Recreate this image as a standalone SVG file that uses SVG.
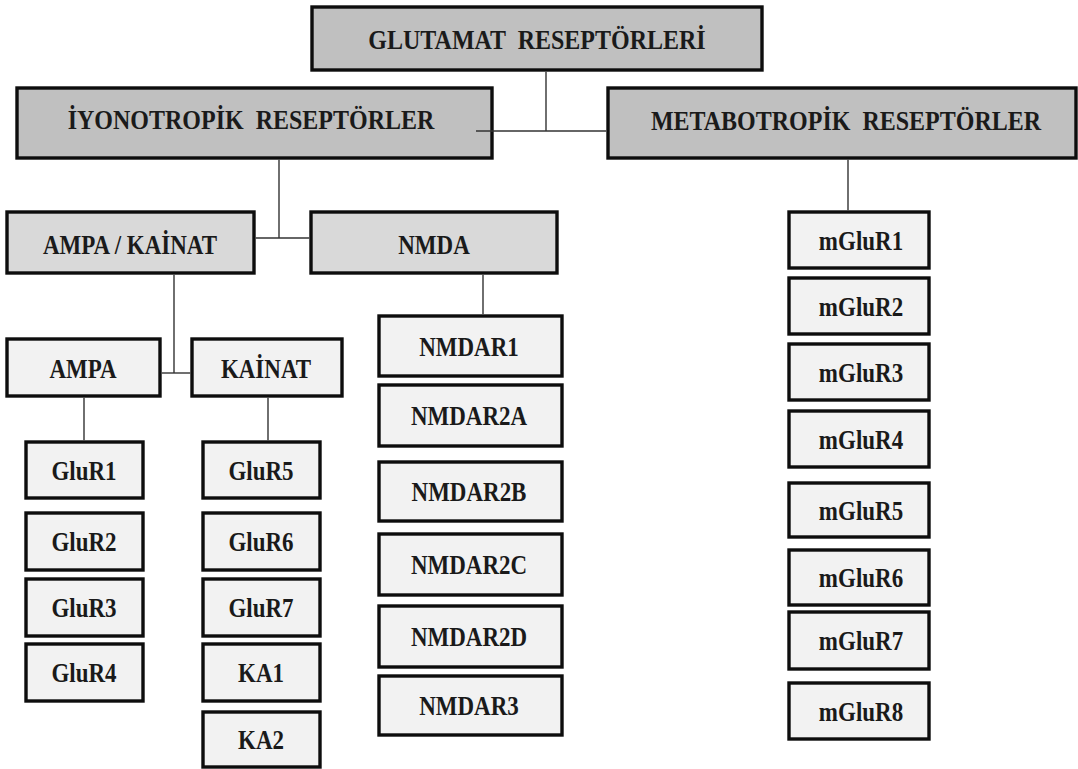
<svg xmlns="http://www.w3.org/2000/svg" width="1078" height="769" viewBox="0 0 1078 769">
  <style>
    .box { stroke: #0d0d0d; stroke-width: 3.4; }
    .lvl1 { fill: #c0c0c0; }
    .lvl2 { fill: #d9d9d9; }
    .leaf { fill: #f2f2f2; }
    text { font-family: "Liberation Serif", "Times New Roman", serif; font-weight: bold; fill: #1a1a1a; text-anchor: middle; dominant-baseline: central; }
    .big { font-size: 24px; word-spacing: 6px; }
    .lbl { font-size: 23px; }
    .conn line { stroke: #333; stroke-width: 1.4; }
  </style>
  <rect width="1078" height="769" fill="#fff"/>

  <!-- top level -->
  <g id="glutamat">
    <rect class="box lvl1" x="312" y="7" width="450" height="63"/>
    <text class="big" transform="translate(537 40) scale(1 1.15)">GLUTAMAT RESEPTÖRLERİ</text>
  </g>
  <g id="iyonotropik">
    <rect class="box lvl1" x="17" y="88" width="475" height="70"/>
    <text class="big" transform="translate(251 120) scale(1 1.15)">İYONOTROPİK RESEPTÖRLER</text>
  </g>
  <g id="metabotropik">
    <rect class="box lvl1" x="608" y="88" width="468" height="70"/>
    <text class="big" transform="translate(846 121) scale(1 1.15)">METABOTROPİK RESEPTÖRLER</text>
  </g>

  <!-- ionotropic subclasses -->
  <g id="ampa-kainat">
    <rect class="box lvl2" x="7" y="212" width="247" height="61"/>
    <text class="lbl" transform="translate(130 245) scale(1 1.15)">AMPA / KAİNAT</text>
  </g>
  <g id="nmda">
    <rect class="box lvl2" x="311" y="212" width="246" height="61"/>
    <text class="lbl" transform="translate(434 245) scale(1 1.15)">NMDA</text>
  </g>
  <g id="ampa">
    <rect class="box leaf" x="7" y="339" width="153" height="57"/>
    <text class="lbl" transform="translate(83 369) scale(1 1.15)">AMPA</text>
  </g>
  <g id="kainat">
    <rect class="box leaf" x="192" y="339" width="150" height="57"/>
    <text class="lbl" transform="translate(266 369) scale(1 1.15)">KAİNAT</text>
  </g>

  <!-- AMPA subunits -->
  <g id="glur1"><rect class="box leaf" x="26" y="442" width="117" height="56"/><text class="lbl" transform="translate(84 471) scale(1 1.15)">GluR1</text></g>
  <g id="glur2"><rect class="box leaf" x="26" y="513" width="117" height="57"/><text class="lbl" transform="translate(84 542) scale(1 1.15)">GluR2</text></g>
  <g id="glur3"><rect class="box leaf" x="26" y="579" width="117" height="57"/><text class="lbl" transform="translate(84 608) scale(1 1.15)">GluR3</text></g>
  <g id="glur4"><rect class="box leaf" x="26" y="644" width="117" height="57"/><text class="lbl" transform="translate(84 673) scale(1 1.15)">GluR4</text></g>

  <!-- kainate subunits -->
  <g id="glur5"><rect class="box leaf" x="203" y="442" width="117" height="56"/><text class="lbl" transform="translate(261 471) scale(1 1.15)">GluR5</text></g>
  <g id="glur6"><rect class="box leaf" x="203" y="513" width="117" height="57"/><text class="lbl" transform="translate(261 542) scale(1 1.15)">GluR6</text></g>
  <g id="glur7"><rect class="box leaf" x="203" y="579" width="117" height="57"/><text class="lbl" transform="translate(261 608) scale(1 1.15)">GluR7</text></g>
  <g id="ka1"><rect class="box leaf" x="203" y="644" width="117" height="57"/><text class="lbl" transform="translate(261 673) scale(1 1.15)">KA1</text></g>
  <g id="ka2"><rect class="box leaf" x="203" y="712" width="117" height="55"/><text class="lbl" transform="translate(261 740) scale(1 1.15)">KA2</text></g>

  <!-- NMDA subunits -->
  <g id="nmdar1"><rect class="box leaf" x="379" y="316" width="183" height="60"/><text class="lbl" transform="translate(469 347) scale(1 1.15)">NMDAR1</text></g>
  <g id="nmdar2a"><rect class="box leaf" x="379" y="385" width="183" height="61"/><text class="lbl" transform="translate(469 416) scale(1 1.15)">NMDAR2A</text></g>
  <g id="nmdar2b"><rect class="box leaf" x="379" y="462" width="183" height="59"/><text class="lbl" transform="translate(469 492) scale(1 1.15)">NMDAR2B</text></g>
  <g id="nmdar2c"><rect class="box leaf" x="379" y="534" width="183" height="61"/><text class="lbl" transform="translate(469 565) scale(1 1.15)">NMDAR2C</text></g>
  <g id="nmdar2d"><rect class="box leaf" x="379" y="606" width="183" height="61"/><text class="lbl" transform="translate(469 637) scale(1 1.15)">NMDAR2D</text></g>
  <g id="nmdar3"><rect class="box leaf" x="379" y="676" width="183" height="59"/><text class="lbl" transform="translate(469 706) scale(1 1.15)">NMDAR3</text></g>

  <!-- metabotropic subtypes -->
  <g id="mglur1"><rect class="box leaf" x="789" y="212" width="140" height="56"/><text class="lbl" transform="translate(861 241) scale(1 1.15)">mGluR1</text></g>
  <g id="mglur2"><rect class="box leaf" x="789" y="278" width="140" height="56"/><text class="lbl" transform="translate(861 307) scale(1 1.15)">mGluR2</text></g>
  <g id="mglur3"><rect class="box leaf" x="789" y="344" width="140" height="56"/><text class="lbl" transform="translate(861 373) scale(1 1.15)">mGluR3</text></g>
  <g id="mglur4"><rect class="box leaf" x="789" y="411" width="140" height="56"/><text class="lbl" transform="translate(861 440) scale(1 1.15)">mGluR4</text></g>
  <g id="mglur5"><rect class="box leaf" x="789" y="483" width="140" height="54"/><text class="lbl" transform="translate(861 511) scale(1 1.15)">mGluR5</text></g>
  <g id="mglur6"><rect class="box leaf" x="789" y="550" width="140" height="55"/><text class="lbl" transform="translate(861 578) scale(1 1.15)">mGluR6</text></g>
  <g id="mglur7"><rect class="box leaf" x="789" y="612" width="140" height="57"/><text class="lbl" transform="translate(861 641) scale(1 1.15)">mGluR7</text></g>
  <g id="mglur8"><rect class="box leaf" x="789" y="683" width="140" height="56"/><text class="lbl" transform="translate(861 712) scale(1 1.15)">mGluR8</text></g>

  <!-- connectors -->
  <g class="conn" id="connectors">
    <line x1="546" y1="71.7" x2="546" y2="131"/>
    <line x1="476" y1="131" x2="606.3" y2="131"/>
    <line x1="279" y1="159.7" x2="279" y2="238"/>
    <line x1="255.7" y1="238" x2="309.3" y2="238"/>
    <line x1="174" y1="274.7" x2="174" y2="373"/>
    <line x1="161.7" y1="373" x2="190.3" y2="373"/>
    <line x1="483" y1="274.7" x2="483" y2="314.3"/>
    <line x1="84" y1="397.7" x2="84" y2="440.3"/>
    <line x1="268" y1="397.7" x2="268" y2="440.3"/>
    <line x1="848" y1="159.7" x2="848" y2="210.3"/>
  </g>
</svg>
